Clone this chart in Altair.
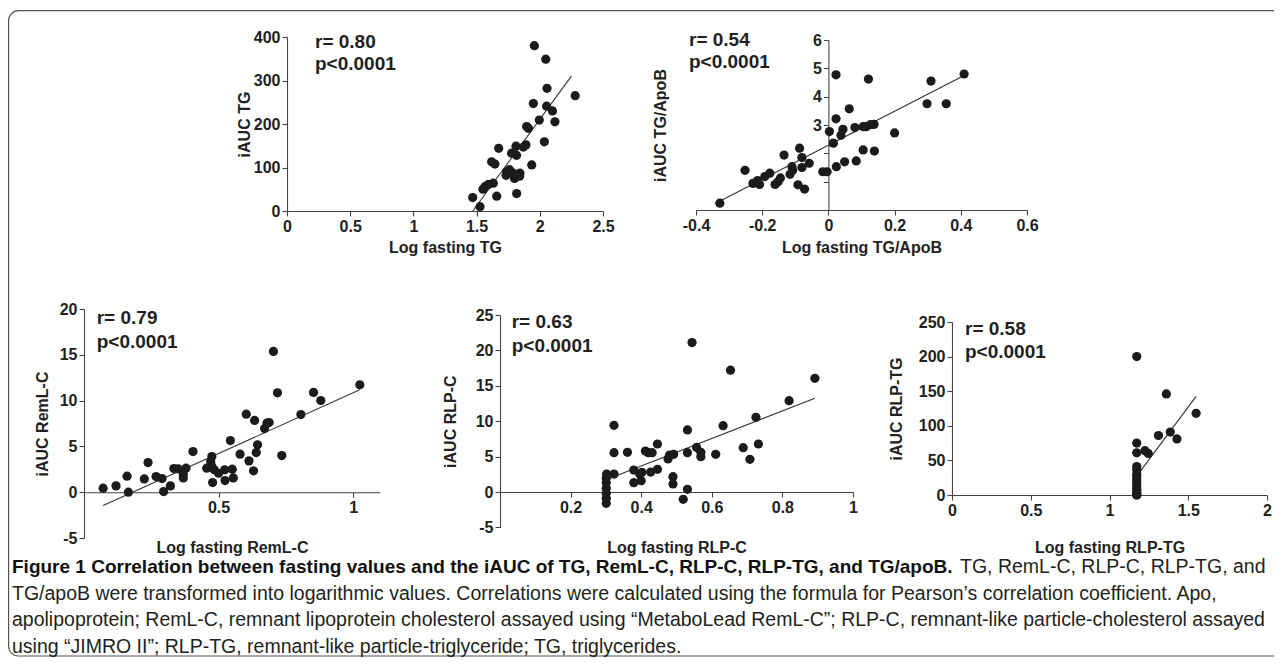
import altair as alt
import pandas as pd

FONT = "Liberation Sans"
DOT = "#1b1b1b"
LINE = "#333333"
TXT = "#231f20"

# ---------------- data ----------------
# Panel 1: Log fasting TG vs iAUC TG
tg_x = [1.957, 2.047, 2.057, 1.949, 2.054, 1.996, 1.896, 1.91, 2.036, 1.89, 1.812, 1.87,
        1.675, 1.777, 1.816, 1.619, 1.645, 1.936, 1.738, 1.79, 1.843, 1.733, 1.81, 1.632,
        1.593, 1.566, 1.55, 1.659, 1.817, 1.469, 1.527, 2.10, 2.12, 2.28, 1.76, 1.80, 1.84]
tg_y = [380, 349, 282, 247, 241, 209, 194, 190, 159, 152, 149, 147,
        144, 133, 128, 113, 108, 106, 90, 87, 87, 82, 82, 64,
        61, 56, 50, 34, 40, 31, 10, 230, 205, 265, 95, 75, 80]
tg_line_x = [1.47, 2.25]
tg_line_y = [0, 310]

# Panel 2: Log fasting TG/ApoB vs iAUC TG/ApoB
ta_x = [-0.328, -0.252, -0.228, -0.208, -0.214, -0.192, -0.177, -0.161, -0.152, -0.145,
        -0.134, -0.116, -0.110, -0.108, -0.087, -0.092, -0.080, -0.080, -0.072, -0.058,
        -0.017, -0.004, 0.003, 0.023, 0.023, 0.015, 0.024, 0.038, 0.044, 0.049,
        0.063, 0.080, 0.084, 0.105, 0.105, 0.121, 0.114, 0.127, 0.138, 0.139,
        0.20, 0.31, 0.298, 0.356, 0.41]
ta_y = [0.24, 1.40, 0.94, 0.90, 1.04, 1.18, 1.30, 0.90, 1.00, 1.13,
        1.94, 1.26, 1.53, 1.40, 2.18, 0.89, 1.85, 1.50, 0.74, 1.65,
        1.35, 1.35, 2.77, 4.77, 3.22, 2.36, 1.53, 2.64, 2.85, 1.70,
        3.57, 2.91, 1.73, 2.94, 2.12, 4.62, 2.94, 3.01, 3.02, 2.08,
        2.72, 4.55, 3.75, 3.75, 4.80]
ta_line_x = [-0.33, 0.41]
ta_line_y = [0.30, 4.75]

# Panel 3: Log fasting RemL-C vs iAUC RemL-C
rc_x = [0.071, 0.119, 0.16, 0.165, 0.224, 0.238, 0.268, 0.29, 0.296, 0.321, 0.334, 0.35,
        0.369, 0.369, 0.379, 0.405, 0.456, 0.471, 0.475, 0.475, 0.484, 0.478, 0.5, 0.523,
        0.524, 0.544, 0.551, 0.555, 0.58, 0.603, 0.613, 0.63, 0.634, 0.64, 0.645, 0.671,
        0.68, 0.688, 0.704, 0.719, 0.735, 0.806, 0.853, 0.88, 1.025]
rc_y = [0.44, 0.69, 1.75, 0.0, 1.45, 3.24, 1.71, 1.49, 0.07, 0.69, 2.58, 2.55,
        1.96, 1.56, 2.62, 4.44, 2.62, 3.35, 3.89, 2.8, 2.44, 1.05, 2.07, 2.44,
        1.27, 5.64, 2.51, 1.56, 4.15, 8.52, 3.42, 2.33, 7.83, 4.33, 5.17, 6.95,
        7.54, 7.6, 15.37, 10.85, 4.0, 8.48, 10.89, 10.01, 11.73]
rc_line_x = [0.071, 1.025]
rc_line_y = [-1.46, 11.18]

# Panel 4: Log fasting RLP-C vs iAUC RLP-C
pc_x = [0.301, 0.301, 0.301, 0.301, 0.301, 0.301, 0.302, 0.323, 0.323, 0.323, 0.361, 0.379,
        0.379, 0.396, 0.40, 0.412, 0.42, 0.431, 0.402, 0.427, 0.446, 0.446, 0.476, 0.48,
        0.492, 0.49, 0.49, 0.519, 0.531, 0.531, 0.531, 0.544, 0.557, 0.569, 0.569, 0.611,
        0.632, 0.653, 0.689, 0.708, 0.725, 0.732, 0.819, 0.892]
pc_y = [1.93, 1.3, 0.52, -0.19, -0.89, -1.6, 2.54, 9.42, 5.56, 2.54, 5.6, 3.1,
        1.32, 2.54, 1.6, 5.79, 5.56, 5.56, 2.78, 2.82, 6.78, 3.2, 4.66, 5.2,
        5.32, 2.16, 1.13, -1.03, 8.76, 5.56, 0.38, 21.1, 6.3, 4.99, 5.6, 5.32,
        9.37, 17.2, 6.26, 4.62, 10.55, 6.78, 12.9, 16.06]
pc_line_x = [0.311, 0.892]
pc_line_y = [1.93, 13.23]

# Panel 5: Log fasting RLP-TG vs iAUC RLP-TG
pt_x = [1.173] * 16 + [1.225, 1.246, 1.311, 1.361, 1.386, 1.428, 1.55]
pt_y = [200, 75, 61, 41, 36, 30, 26, 22, 18, 14, 10, 7, 4, 2, 0, 0,
        64, 60, 86, 146, 91, 81, 118]
pt_line_x = [1.194, 1.55]
pt_line_y = [33.8, 142.5]

stats_r = ["r= 0.80", "r= 0.54", "r= 0.79", "r= 0.63", "r= 0.58"]
stats_p = "p<0.0001"

caption_bold = ("Figure 1 Correlation between fasting values and the iAUC of TG, "
                "RemL-C, RLP-C, RLP-TG, and TG/apoB.")
caption_lines = [
    "TG, RemL-C, RLP-C, RLP-TG, and",
    "TG/apoB were transformed into logarithmic values. Correlations were calculated using "
    "the formula for Pearson\u2019s correlation coefficient. Apo,",
    "apolipoprotein; RemL-C, remnant lipoprotein cholesterol assayed using "
    "\u201cMetaboLead RemL-C\u201d; RLP-C, remnant-like particle-cholesterol assayed",
    "using \u201cJIMRO II\u201d; RLP-TG, remnant-like particle-triglyceride; TG, triglycerides.",
]

W, H = 1266, 650
dummy = pd.DataFrame({"a": [0]})


def xaxis(values, title, offset, title_y, expr="toString(datum.value)"):
    return alt.Axis(orient="bottom", values=values, title=title, offset=offset,
                    titleY=title_y, titleBaseline="top", labelExpr=expr)


def yaxis(values, title, offset, title_x, expr="toString(datum.value)"):
    return alt.Axis(orient="left", values=values, title=title, offset=offset,
                    titleX=title_x, titleBaseline="bottom", labelExpr=expr)


def panel(xs, ys, lx, ly, xdom, xrng, ydom, yrng, xax, yax):
    X = alt.X("x:Q", scale=alt.Scale(domain=xdom, range=xrng, nice=False, zero=False), axis=xax)
    Y = alt.Y("y:Q", scale=alt.Scale(domain=ydom, range=yrng, nice=False, zero=False), axis=yax)
    pts = alt.Chart(pd.DataFrame({"x": xs, "y": ys})).mark_circle(
        size=85, color=DOT, opacity=1).encode(x=X, y=Y)
    ln = alt.Chart(pd.DataFrame({"x": lx, "y": ly})).mark_line(
        color=LINE, strokeWidth=1.1).encode(x=X, y=Y)
    return alt.layer(ln, pts)


def text(t, x, y, size, weight="bold", color=TXT):
    return alt.Chart(dummy).mark_text(
        text=t, align="left", baseline="middle", font=FONT, fontSize=size,
        fontWeight=weight, color=color).encode(x=alt.value(x), y=alt.value(y))


p1 = panel(tg_x, tg_y, tg_line_x, tg_line_y, [0, 2.5], [279, 595], [0, 400], [203, 29],
           xaxis([0, 0.5, 1, 1.5, 2, 2.5], "Log fasting TG", -447, 28),
           yaxis([0, 100, 200, 300, 400], "iAUC TG", -279, -35))
p2 = panel(ta_x, ta_y, ta_line_x, ta_line_y, [-0.4, 0.6], [688, 1019], [0, 6], [202, 32],
           xaxis([-0.4, -0.2, 0, 0.2, 0.4, 0.6], "Log fasting TG/ApoB", -448, 29),
           yaxis([1, 2, 3, 4, 5, 6], "iAUC TG/ApoB", -820.4, -160,
                 "datum.value >= 3 ? toString(datum.value) : ''"))
p3 = panel(rc_x, rc_y, rc_line_x, rc_line_y, [0, 1.1], [76, 372], [-5, 20], [530, 301],
           xaxis([0.5, 1], "Log fasting RemL-C", -165.8, 47),
           yaxis([-5, 0, 5, 10, 15, 20], "iAUC RemL-C", -76, -34))
p4 = panel(pc_x, pc_y, pc_line_x, pc_line_y, [0, 1], [492, 845], [-5, 25], [519.4, 307],
           xaxis([0.2, 0.4, 0.6, 0.8, 1], "Log fasting RLP-C", -166, 47),
           yaxis([-5, 0, 5, 10, 15, 20, 25], "iAUC RLP-C", -492, -42))
p5 = panel(pt_x, pt_y, pt_line_x, pt_line_y, [0, 2], [944, 1259], [0, 250], [487, 314],
           xaxis([0, 0.5, 1, 1.5, 2], "Log fasting RLP-TG", -163, 44),
           yaxis([0, 50, 100, 150, 200, 250], "iAUC RLP-TG", -944, -48))

ann_pos = [(307, 33.7, 56), (681, 32, 54), (88.7, 310, 333.7), (503.7, 314, 338), (957, 321, 343.7)]
anns = []
for r, (ax, ry, py) in zip(stats_r, ann_pos):
    anns.append(text(r, ax, ry, 19))
    anns.append(text(stats_p, ax, py, 19))

caps = [text(caption_bold, 4, 559, 19, "bold", "#111111"),
        text(caption_lines[0], 952, 559, 19.5, "normal"),
        text(caption_lines[1], 4, 585.5, 19.5, "normal"),
        text(caption_lines[2], 4, 612, 19.5, "normal"),
        text(caption_lines[3], 4, 638.5, 19.5, "normal")]

border = alt.Chart(dummy).mark_rect(
    fill=None, stroke="#555555", strokeWidth=1.2, cornerRadius=10).encode(
    x=alt.value(0.6), x2=alt.value(1320), y=alt.value(2.6), y2=alt.value(648))

chart = alt.layer(border, p1, p2, p3, p4, p5, *anns, *caps).resolve_scale(
    x="independent", y="independent").resolve_axis(
    x="independent", y="independent").properties(
    width=W, height=H, padding=0, autosize=alt.AutoSizeParams(type="none")
).configure_view(stroke=None).configure_axis(
    grid=False, labelFont=FONT, labelFontWeight="bold", labelFontSize=16,
    labelColor="#222222", titleFont=FONT, titleFontWeight="bold", titleFontSize=16,
    titleColor="#222222", domainColor="#444444", tickColor="#444444", tickSize=5,
    labelPadding=2, labelFlush=False, labelOverlap=False, domainWidth=1.1, tickWidth=1.1)

chart.save("out.html", embed_options={"renderer": "svg", "actions": False})
